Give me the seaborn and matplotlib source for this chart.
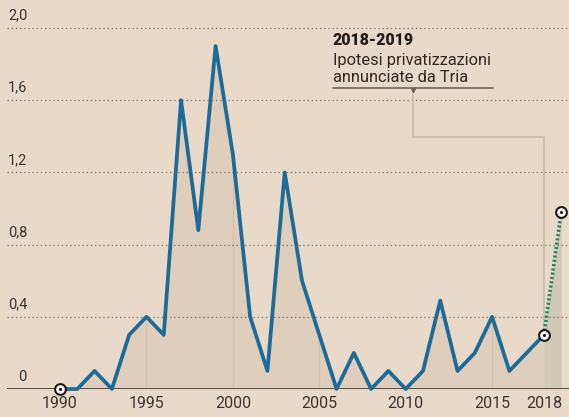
import numpy as np
import pandas as pd
import matplotlib
matplotlib.use("Agg")
import matplotlib.pyplot as plt
import seaborn as sns

years = list(range(1990, 2019))
values = [0, 0, 0.1, 0, 0.3, 0.4, 0.3, 1.6, 0.88, 1.9, 1.3, 0.4, 0.1, 1.2, 0.6,
          0.3, 0, 0.2, 0, 0.1, 0, 0.1, 0.49, 0.1, 0.2, 0.4, 0.1, 0.2, 0.3]
proj_years = [2018, 2019]
proj_values = [0.3, 0.98]
xtick_years = [1990, 1995, 2000, 2005, 2010, 2015, 2018]
ytick_values = [0, 0.4, 0.8, 1.2, 1.6, 2.0]
ytick_labels = ["0", "0,4", "0,8", "1,2", "1,6", "2,0"]
note_title = "2018-2019"
note_text = "Ipotesi privatizzazioni\nannunciate da Tria"

bg = "#e8d9c8"
fill_col = "#dfcebb"
blue = "#1d6b98"
green = "#1e8a5c"
txt = "#3b3632"

sns.set_style("white")
plt.rcParams["font.family"] = ["Roboto", "DejaVu Sans"]

df = pd.DataFrame({"year": years, "value": values})
proj = pd.DataFrame({"year": proj_years, "value": proj_values})

fig = plt.figure(figsize=(5.69, 4.17), dpi=100, facecolor=bg)
ax = fig.add_axes([7 / 569, 28 / 417, 562 / 569, 389 / 417])
ax.set_facecolor(bg)
ax.set_xlim(1986.93, 2019.45)
ax.set_ylim(0, 2.155)

# area under the curve
ax.fill_between(df["year"], 0, df["value"], color=fill_col, lw=0, zorder=1)
ax.fill_between(proj["year"], 0, proj["value"], color="#d0c9b4", lw=0, zorder=1)
for yr in [1995, 2000, 2005, 2010, 2015]:
    v = values[years.index(yr)]
    ax.plot([yr, yr], [0, v], color="#d2c2af", lw=1, zorder=1.5)

# dotted grid
for v in ytick_values[1:]:
    ax.axhline(v, color="#8a7c70", lw=1, ls=(0, (1, 2)), zorder=2)
ax.axhline(0, color="#5a4d43", lw=1.4, zorder=2)

sns.lineplot(data=df, x="year", y="value", ax=ax, color=blue, lw=2.7,
             zorder=4, clip_on=False)
sns.lineplot(data=proj, x="year", y="value", ax=ax, color=green, lw=2.6,
             ls=(0, (0.6, 0.6)), zorder=3, clip_on=False)

mk = pd.DataFrame({"year": [1990, 2018, 2019], "value": [0, 0.3, 0.98]})
sns.scatterplot(data=mk, x="year", y="value", ax=ax, s=60, color="white",
                edgecolor="#1f1a17", linewidth=1.5, zorder=6, clip_on=False)
sns.scatterplot(data=mk, x="year", y="value", ax=ax, s=5, color="#1f1a17",
                linewidth=0, zorder=7, clip_on=False)

# y labels above grid lines
for v, lab in zip(ytick_values, ytick_labels):
    ax.text(1 / 562 if v > 0 else 11 / 562, v + 0.03, lab,
            transform=ax.get_yaxis_transform(),
            ha="left", va="bottom", fontsize=10.5, color=txt)

ax.set_xticks(xtick_years)
ax.set_xticklabels([str(y) for y in xtick_years], fontsize=11.5, color=txt)
ax.tick_params(axis="x", length=0, pad=5)
ax.set_yticks([])
ax.set_xlabel("")
ax.set_ylabel("")
for s in ax.spines.values():
    s.set_visible(False)

# annotation
ax.text(2005.79, 1.98, note_title, fontsize=11.5, fontweight="black",
        color="#221d1a", va="top", ha="left")
ax.text(2005.79, 1.86, note_text, fontsize=11.8, color="#2e2925", va="top",
        ha="left", linespacing=1.12)
ax.plot([2005.79, 2015.04], [1.668, 1.668], color="#6e6258", lw=1.2, zorder=3)
ax.plot([2010.4], [1.658], marker="v", ms=3, color="#6e6258", zorder=3)
ax.plot([2010.4, 2010.4, 2018, 2018], [1.66, 1.396, 1.396, 0.343],
        color="#c9b9a7", lw=1.2, zorder=2.5)

fig.savefig("out.png", dpi=100, facecolor=bg)
